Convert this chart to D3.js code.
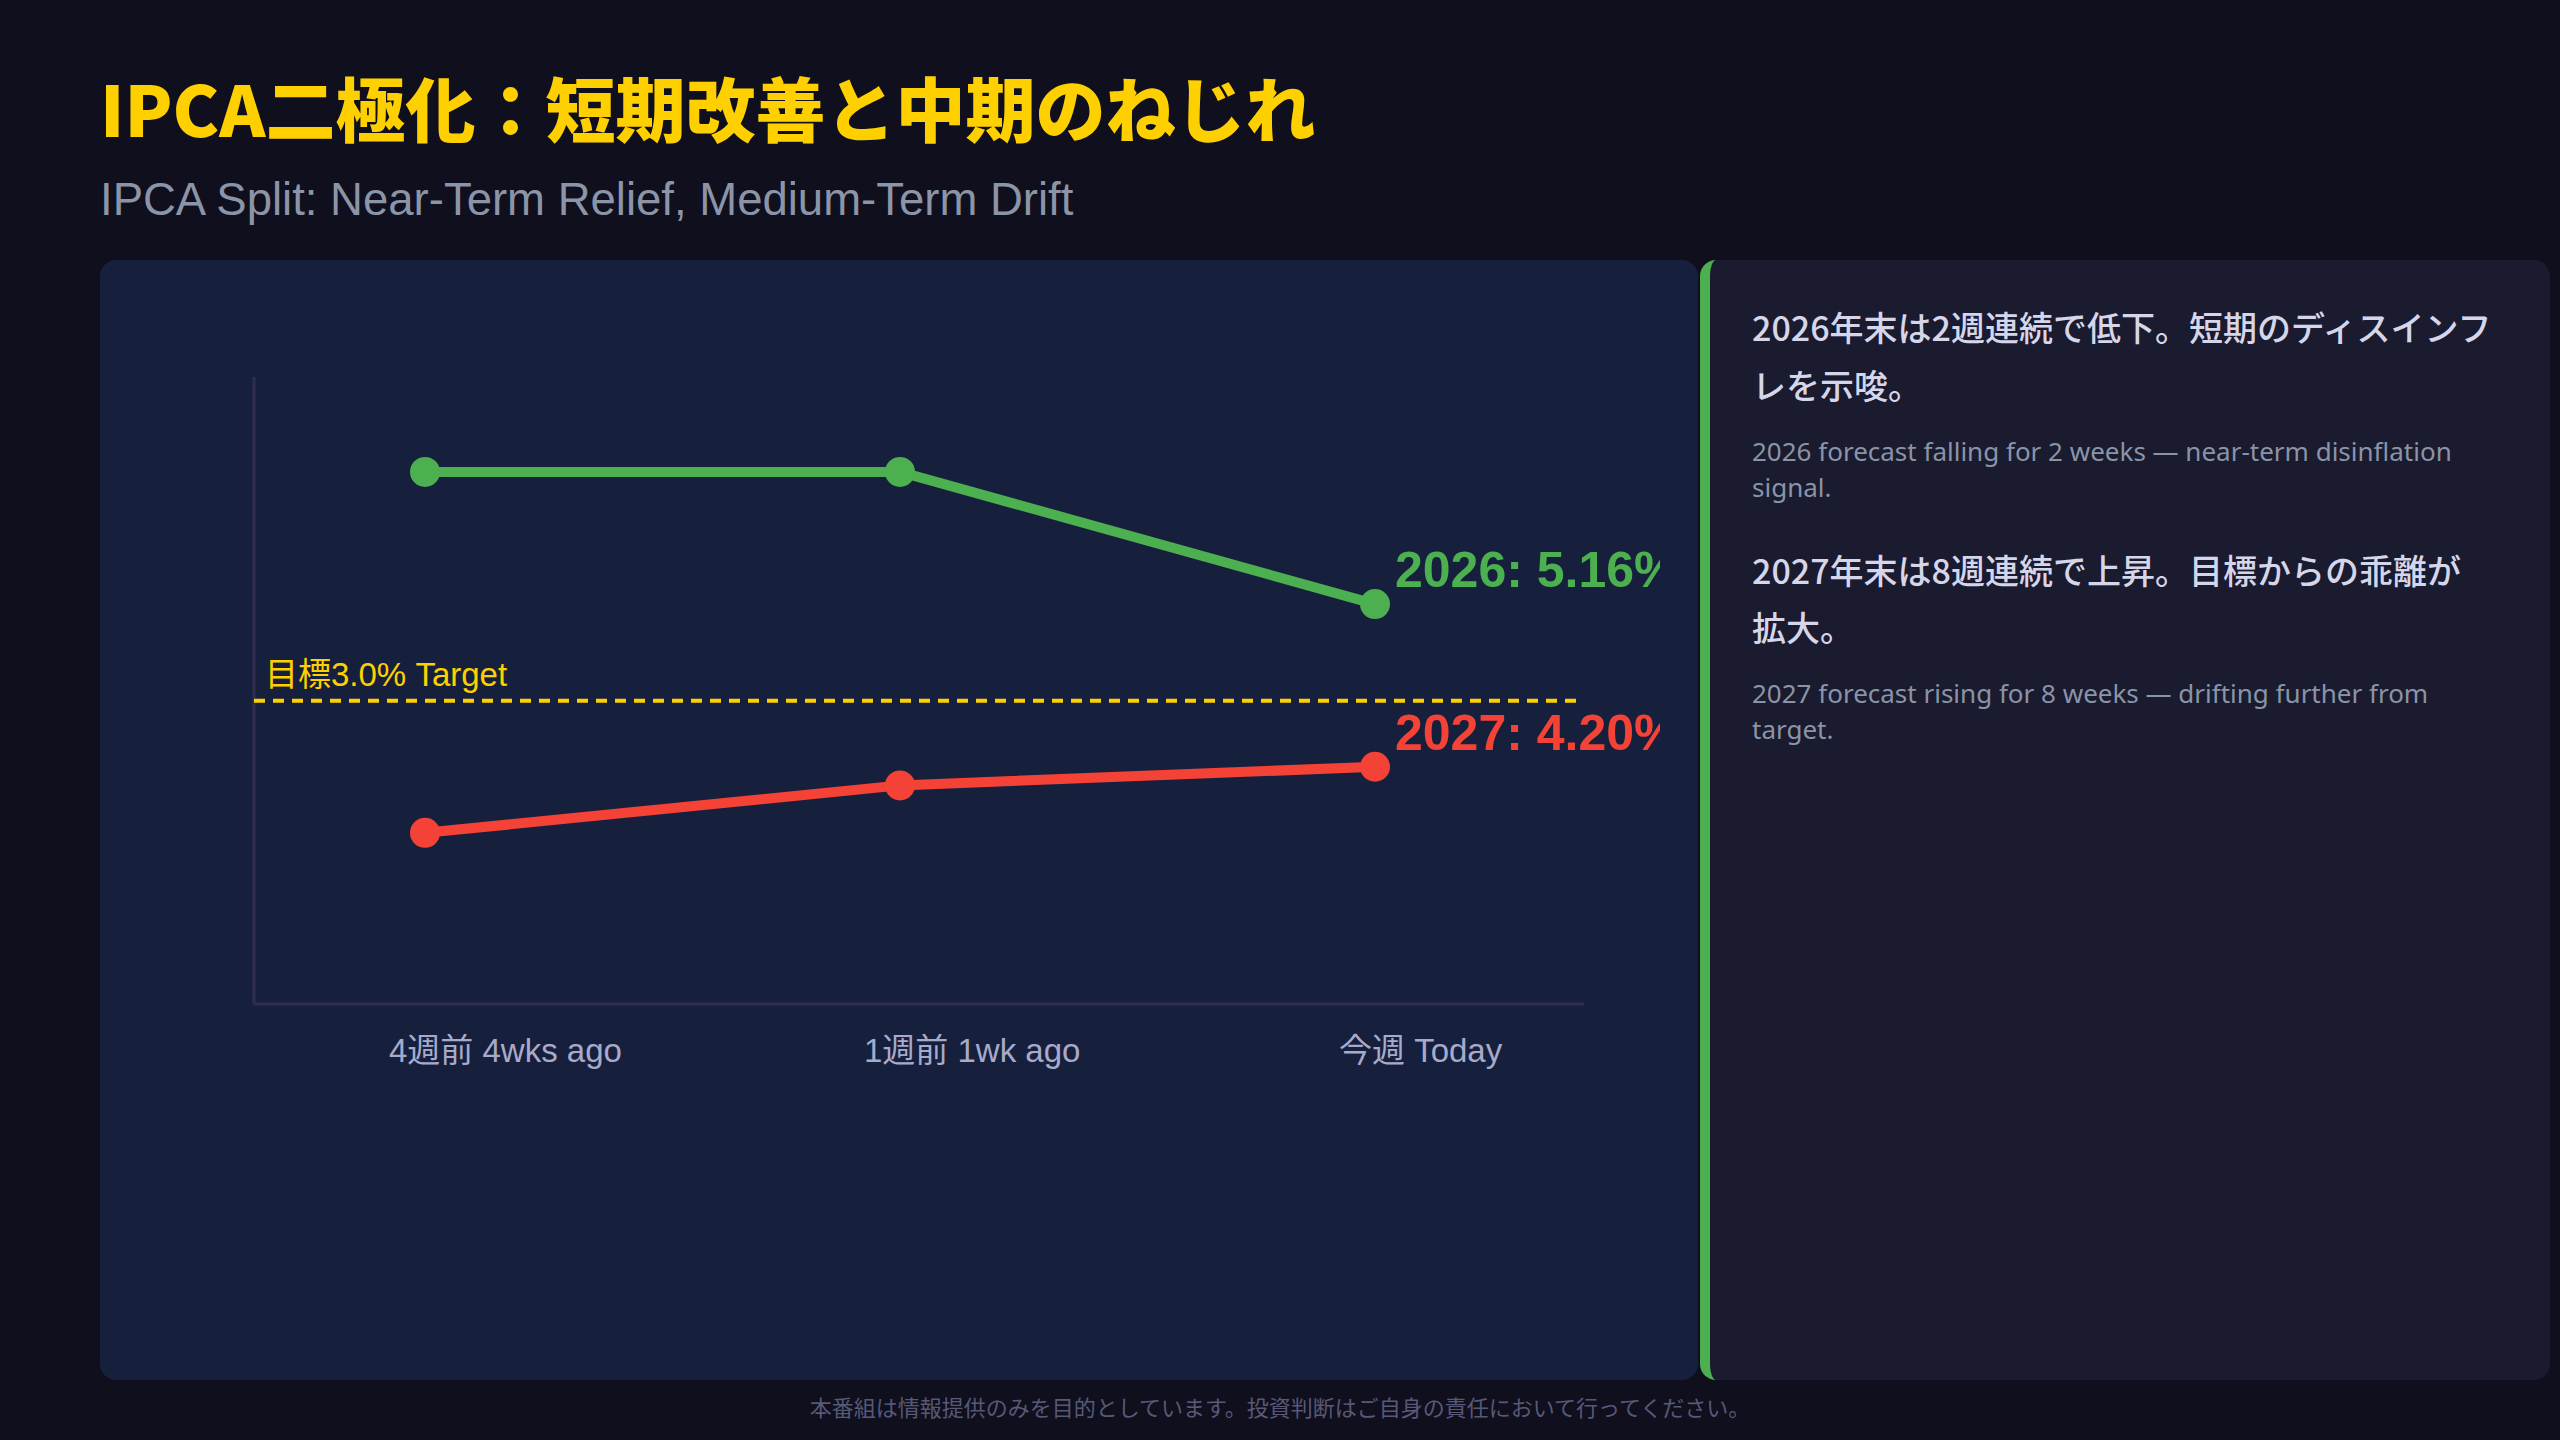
<!DOCTYPE html>
<html lang="ja">
<head>
<meta charset="utf-8">
<script src="https://cdn.jsdelivr.net/npm/d3@7"></script>
<style>
  html, body { margin: 0; padding: 0; }
  body { width: 2560px; height: 1440px; background: #0f0f1e; position: relative; overflow: hidden; }
  #card-left { position: absolute; left: 100px; top: 260px; width: 1598px; height: 1120px;
    background: #16203c; border-radius: 16px; }
  #card-right { position: absolute; left: 1700px; top: 260px; width: 850px; height: 1120px;
    box-sizing: border-box; background: #1a1b2e; border-radius: 16px;
    border-left: 10px solid #4caf50; padding: 38px 42px 0 42px; }
  #card-right p { margin: 0; white-space: pre-line; }
  .jp { font-family: "Noto Sans CJK JP", sans-serif; font-weight: 500; font-size: 34px;
    line-height: 1.7; color: #d6d6ea; }
  .en { font-family: "Noto Sans", "Noto Sans CJK JP", sans-serif; font-size: 26px;
    line-height: 36px; color: #8a94a8; margin-top: 19px !important; }
  .jp + .en + .jp { margin-top: 36px !important; }
  #stage { position: absolute; left: 0; top: 0; }
</style>
</head>
<body>
<div id="card-left"></div>
<div id="card-right"></div>
<svg id="stage" width="2560" height="1440"></svg>
<script>
// data
const weeks = ["4週前 4wks ago", "1週前 1wk ago", "今週 Today"];
const seriesNames = ["2026", "2027"];
const ipca2026 = [5.94, 5.94, 5.16];
const ipca2027 = [3.81, 4.09, 4.20];
const seriesColors = ["#4caf50", "#f44336"];
const yDomain = [2.8, 6.5];
const targetRate = 3.0;
// the reference draws its 3.0% line at this height on the value scale
const targetLevel = 4.59;

const titleJa = "IPCA二極化：短期改善と中期のねじれ";
const titleEn = "IPCA Split: Near-Term Relief, Medium-Term Drift";
const footer = "本番組は情報提供のみを目的としています。投資判断はご自身の責任において行ってください。";
const notes = [
  { ja: "2026年末は2週連続で低下。短期のディスインフ\nレを示唆。",
    en: "2026 forecast falling for 2 weeks — near-term disinflation signal." },
  { ja: "2027年末は8週連続で上昇。目標からの乖離が\n拡大。",
    en: "2027 forecast rising for 8 weeks — drifting further from target." }
];

const series = seriesNames.map((name, i) => ({
  name: name,
  values: [ipca2026, ipca2027][i],
  color: seriesColors[i]
}));

// side notes
const right = d3.select("#card-right");
notes.forEach(n => {
  right.append("p").attr("class", "jp").text(n.ja);
  right.append("p").attr("class", "en").text(n.en);
});

const svg = d3.select("#stage");

// headings
svg.append("text")
  .attr("x", 100).attr("y", 137)
  .attr("font-family", "'Noto Sans CJK JP', sans-serif")
  .attr("font-weight", 900)
  .attr("font-size", 70)
  .attr("fill", "#ffd000")
  .text(titleJa);

svg.append("text")
  .attr("x", 100).attr("y", 215)
  .attr("font-family", "'Liberation Sans', sans-serif")
  .attr("font-size", 45.5)
  .attr("fill", "#8b95a7")
  .text(titleEn);

svg.append("text")
  .attr("x", 1280).attr("y", 1416)
  .attr("text-anchor", "middle")
  .attr("font-family", "'Noto Sans CJK JP', sans-serif")
  .attr("font-size", 22)
  .attr("fill", "#575977")
  .text(footer);

// chart area, clipped like the reference (labels run off the right edge)
svg.append("defs").append("clipPath").attr("id", "plotClip")
  .append("rect").attr("x", 100).attr("y", 260).attr("width", 1560).attr("height", 1120);

const chart = svg.append("g").attr("clip-path", "url(#plotClip)");

const axisLeft = 254, axisRight = 1584;

const x = d3.scalePoint().domain(weeks).range([425, 1375]);
const y = d3.scaleLinear().domain(yDomain).range([1004, 377]);

// axes
const axisColor = "#2f2d52";
chart.append("line")
  .attr("x1", axisLeft).attr("x2", axisLeft)
  .attr("y1", y.range()[1]).attr("y2", y.range()[0])
  .attr("stroke", axisColor).attr("stroke-width", 3);
chart.append("line")
  .attr("x1", axisLeft).attr("x2", axisRight)
  .attr("y1", y.range()[0]).attr("y2", y.range()[0])
  .attr("stroke", axisColor).attr("stroke-width", 3);

chart.selectAll("text.xlab")
  .data(weeks)
  .enter()
  .append("text")
  .attr("class", "xlab")
  .attr("x", d => x(d) - 36)
  .attr("y", 1062)
  .attr("font-family", "'Liberation Sans', 'Noto Sans CJK JP', sans-serif")
  .attr("font-size", 33)
  .attr("fill", "#a8aacb")
  .text(d => d);

// target line
chart.append("line")
  .attr("x1", axisLeft).attr("x2", 1578)
  .attr("y1", y(targetLevel)).attr("y2", y(targetLevel))
  .attr("stroke", "#ffd000")
  .attr("stroke-width", 4)
  .attr("stroke-dasharray", "11,8");

chart.append("text")
  .attr("x", axisLeft + 11)
  .attr("y", y(targetLevel) - 15)
  .attr("font-family", "'Liberation Sans', 'Noto Sans CJK JP', sans-serif")
  .attr("font-size", 33)
  .attr("fill", "#ffd000")
  .text(`目標${targetRate.toFixed(1)}% Target`);

// series
const line = d3.line()
  .x((d, i) => x(weeks[i]))
  .y(d => y(d));

const groups = chart.selectAll("g.series")
  .data(series)
  .enter()
  .append("g")
  .attr("class", "series");

groups.append("path")
  .attr("d", d => line(d.values))
  .attr("fill", "none")
  .attr("stroke", d => d.color)
  .attr("stroke-width", 10)
  .attr("stroke-linejoin", "round")
  .attr("stroke-linecap", "round");

groups.selectAll("circle")
  .data(d => d.values.map((v, i) => ({ v: v, i: i, color: d.color })))
  .enter()
  .append("circle")
  .attr("cx", d => x(weeks[d.i]))
  .attr("cy", d => y(d.v))
  .attr("r", 15)
  .attr("fill", d => d.color);

groups.append("text")
  .attr("x", x(weeks[weeks.length - 1]) + 20)
  .attr("y", d => y(d.values[d.values.length - 1]) - 17)
  .attr("font-family", "'Liberation Sans', sans-serif")
  .attr("font-weight", 700)
  .attr("font-size", 50)
  .attr("fill", d => d.color)
  .text(d => `${d.name}: ${d.values[d.values.length - 1].toFixed(2)}%`);
</script>
</body>
</html>
